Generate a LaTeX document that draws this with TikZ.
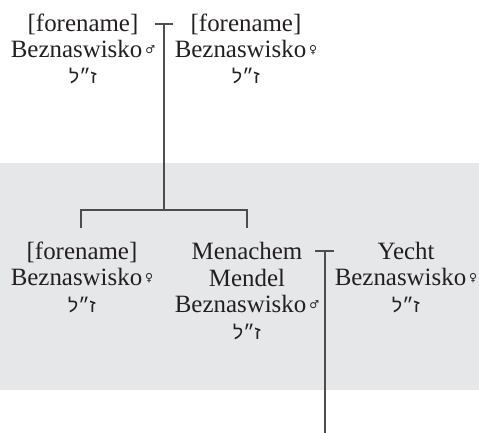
\documentclass[tikz,border=0pt]{standalone}
\usepackage{fontspec}
\setmainfont{Liberation Serif}
\newfontfamily\symfont{DejaVu Sans}
\newfontfamily\hebfont[Script=Hebrew]{Liberation Sans}
\TeXXeTstate=1
\definecolor{ink}{HTML}{231F20}
\definecolor{band}{HTML}{E6E7E8}
\definecolor{rulecol}{HTML}{4D4D4F}
% gender marks and the Hebrew memorial abbreviation
\newcommand\gM{\hspace{3bp}\raisebox{4.5bp}{\symfont\fontsize{11}{11}\selectfont ♂}}
\newcommand\gF{\hspace{3bp}\raisebox{4.5bp}{\symfont\fontsize{11}{11}\selectfont ♀}}
\newcommand\zl{{\hebfont\fontsize{19}{19}\selectfont\beginR ז״ל\endR}}
\begin{document}
\begin{tikzpicture}[x=1bp,y=-1bp,
  person/.style={align=center, anchor=base, inner sep=0pt, text=ink,
    font=\fontsize{25}{26.5}\selectfont},
  link/.style={draw=rulecol, line width=1.6bp}]
\useasboundingbox (0,0) rectangle (479,433);
% generation band
\fill[band] (0,163) rectangle (479,390);

% parents (placed by the baseline of their last line)
\node[person] (p1) at (83,84) {[forename]\\Beznaswisko\gM\\\zl};
\node[person] (p2) at (246,84) {[forename]\\Beznaswisko\gF\\\zl};
% children and spouse
\node[person] (c1) at (82,312) {[forename]\\Beznaswisko\gF\\\zl};
\node[person] (c2) at (247,339) {Menachem\\Mendel\\Beznaswisko\gM\\\zl};
\node[person] (sp) at (406,312) {Yecht\\Beznaswisko\gF\\\zl};

% marriage of the parents and descent line
\coordinate (m1l) at (155,24);
\coordinate (m1r) at (173,24);
\coordinate (m1) at (164,24);
\coordinate (sib) at (164,210);
\coordinate (sibL) at (81,210);
\coordinate (sibR) at (247,210);
\coordinate (c1top) at (81,228);
\coordinate (c2top) at (247,228);
\draw[link] (m1l) -- (m1r);
\draw[link] (m1) -- (sib);
\draw[link] (c1top) -- (sibL) -- (sibR) -- (c2top);

% marriage of Menachem Mendel and Yecht
\coordinate (m2l) at (315,251);
\coordinate (m2r) at (334,251);
\coordinate (m2) at (325,251);
\coordinate (m2end) at (325,433);
\draw[link] (m2l) -- (m2r);
\draw[link] (m2) -- (m2end);
\end{tikzpicture}
\end{document}
